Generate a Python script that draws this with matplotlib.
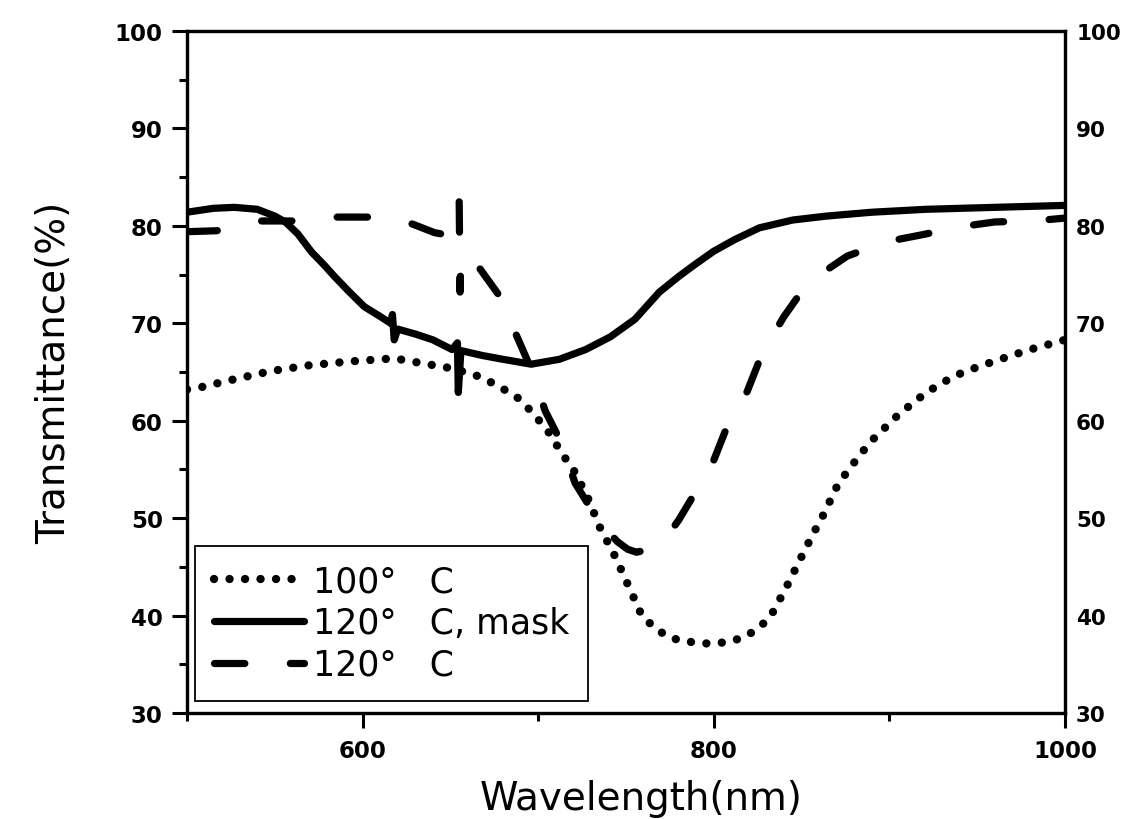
import matplotlib
matplotlib.use("Agg")
import matplotlib.pyplot as plt
from matplotlib.ticker import MultipleLocator

# ---- data ----
wl_100 = [500, 507, 528, 548, 570, 594, 618, 637, 650, 664, 676, 688, 697, 706, 714, 720, 728,
          735, 744, 752, 759, 766, 774, 782, 791, 799, 808, 816, 824, 832, 841, 849, 856, 862,
          870, 876, 889, 905, 921, 937, 950, 963, 980, 996, 1000]
t_100 = [63.2, 63.4, 64.3, 65.1, 65.7, 66.1, 66.4, 65.8, 65.4, 64.7, 63.7, 62.4, 60.8, 58.8,
         56.5, 55.0, 52.2, 49.1, 46.0, 42.8, 40.0, 38.8, 37.8, 37.4, 37.2, 37.1, 37.3, 37.7,
         38.5, 39.8, 42.8, 45.7, 48.2, 50.2, 53.2, 54.8, 57.8, 60.6, 62.9, 64.6, 65.5, 66.3,
         67.3, 68.1, 68.3]

wl_mask = [500, 515, 527, 540, 550, 556, 563, 571, 578, 584, 592, 601, 610, 616, 617, 618, 620,
           630, 640, 651, 654, 654.5, 656, 668, 680, 696, 712, 727, 741, 755, 769, 780, 789, 800,
           812, 826, 845, 864, 890, 921, 960, 1000]
t_mask = [81.4, 81.8, 81.9, 81.7, 81.0, 80.4, 79.2, 77.3, 76.0, 74.8, 73.3, 71.7, 70.7, 70.0,
          70.9, 68.3, 69.4, 68.9, 68.3, 67.3, 68.0, 62.9, 67.2, 66.7, 66.3, 65.8, 66.3, 67.3,
          68.6, 70.4, 73.2, 74.8, 76.0, 77.4, 78.6, 79.8, 80.6, 81.0, 81.4, 81.7, 81.9, 82.1]

wl_120 = [500, 517, 539, 560, 575, 605, 621, 641, 650, 655, 655.5, 656, 664, 678, 688, 696, 704,
          713, 721, 734, 745, 751, 756, 763, 772, 780, 788, 799, 808, 819, 828, 840, 849, 858,
          876, 899, 919, 940, 960, 982, 1000]
t_120 = [79.4, 79.5, 80.5, 80.5, 80.9, 80.9, 80.7, 79.3, 79.0, 82.5, 73.2, 77.0, 76.3, 72.8,
         68.6, 65.3, 61.0, 57.8, 53.6, 49.8, 47.6, 46.8, 46.5, 46.8, 47.8, 49.8, 52.2, 55.5,
         59.6, 63.0, 67.1, 70.7, 73.0, 74.7, 76.9, 78.4, 79.1, 79.9, 80.4, 80.5, 80.8]

labels = ["100°   C", "120°   C, mask", "120°   C"]
x_label = "Wavelength(nm)"
y_label = "Transmittance(%)"
y_ticks = [30, 40, 50, 60, 70, 80, 90, 100]
x_ticks = [600, 800, 1000]

# ---- figure ----
fig = plt.figure(figsize=(11.28, 8.2), dpi=100)
ax = fig.add_axes([0.16578, 0.12927, 0.77837, 0.83171])

l1, = ax.plot(wl_100, t_100, color="black", lw=6.0, linestyle=(0, (0.01, 1.85)),
              dash_capstyle="round", solid_joinstyle="round")
l2, = ax.plot(wl_mask, t_mask, color="black", lw=5.2, solid_capstyle="round",
              solid_joinstyle="round")
l3, = ax.plot(wl_120, t_120, color="black", lw=5.2, linestyle=(0, (4.2, 6.3)),
              dash_capstyle="round", dash_joinstyle="round")

ax.set_xlim(500, 1000)
ax.set_ylim(30, 100)
ax.set_xticks(x_ticks)
ax.xaxis.set_minor_locator(MultipleLocator(100))
ax.set_yticks(y_ticks)
ax.yaxis.set_minor_locator(MultipleLocator(5))

for sp in ax.spines.values():
    sp.set_linewidth(2.3)
    sp.set_color("black")

ax.tick_params(axis="both", which="major", direction="out", length=10.5, width=2.2,
               labelsize=16.5, pad=7, top=False, right=False)
ax.tick_params(axis="both", which="minor", direction="out", length=5.5, width=2.2,
               top=False, right=False)
ax.tick_params(axis="x", which="major", pad=8)
for lab in ax.get_xticklabels() + ax.get_yticklabels():
    lab.set_fontweight("bold")

ax2 = ax.twinx()
ax2.set_ylim(30, 100)
ax2.set_yticks(y_ticks)
ax2.tick_params(axis="y", which="both", length=0, labelsize=15.5, pad=8)
for lab in ax2.get_yticklabels():
    lab.set_fontweight("bold")
for sp in ax2.spines.values():
    sp.set_linewidth(2.3)

ax.set_xlabel(x_label, fontsize=28)
ax.set_ylabel(y_label, fontsize=28)
ax.xaxis.set_label_coords(0.517, -0.097)
ax.yaxis.set_label_coords(-0.13, 0.5)

leg = ax2.legend([l1, l2, l3], labels, loc="lower left", bbox_to_anchor=(0.009, 0.0176),
                 bbox_transform=ax.transAxes, borderaxespad=0, frameon=True, fancybox=False,
                 edgecolor="black", framealpha=1, fontsize=25, handlelength=2.6,
                 handletextpad=0.25, labelspacing=0.22, borderpad=0.55)
leg.get_frame().set_linewidth(1.3)

fig.savefig("out.png", dpi=100, facecolor="white")
